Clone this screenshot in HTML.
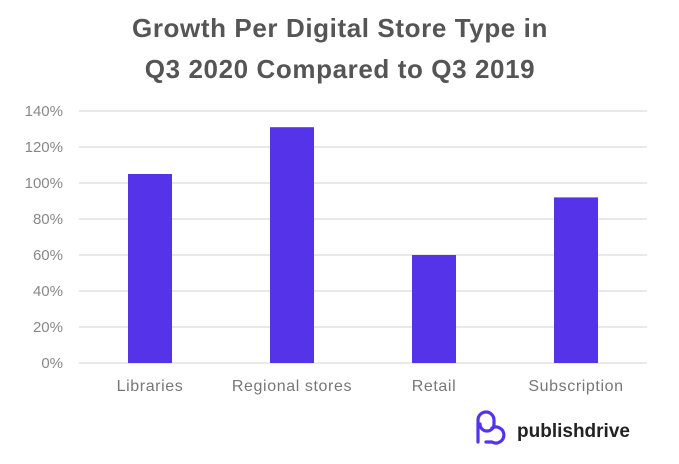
<!DOCTYPE html>
<html><head><meta charset="utf-8"><style>
body{margin:0;background:#fff;width:679px;height:459px;overflow:hidden;font-family:"Liberation Sans",sans-serif}
</style></head><body>
<svg width="679" height="459">
<text x="340" y="37" text-anchor="middle" font-size="26" font-weight="bold" fill="#555" letter-spacing="0.6">Growth Per Digital Store Type in</text>
<text x="340" y="78" text-anchor="middle" font-size="26" font-weight="bold" fill="#555" letter-spacing="0.6">Q3 2020 Compared to Q3 2019</text>
<g id="grid"></g><g id="bars"></g><g id="xl"></g>
<g>
<path d="M478 442 V420 a8 8 0 0 1 16 0 v4 a7 7 0 0 1 -14 0 M492 428 a8 8 0 1 1 0 14 h-6" fill="none" stroke="#5533ee" stroke-width="3.2" stroke-linecap="round" stroke-linejoin="round"/>
<text x="517" y="437" font-size="19" font-weight="bold" fill="#222">publishdrive</text>
</g>
</svg>
<script>
const categories=["Libraries","Regional stores","Retail","Subscription"];
const values=[105,131,60,92];
const ticks=[0,20,40,60,80,100,120,140];
const tickLabels=["0%","20%","40%","60%","80%","100%","120%","140%"];
const ns="http://www.w3.org/2000/svg";
const x0=79,x1=647,y0=363,y1=111,maxV=140,bw=44;
const band=(x1-x0)/categories.length;
const ys=v=>y0-(v/maxV)*(y0-y1);
const xc=i=>x0+band*(i+0.5);
function mk(t,a,p){const e=document.createElementNS(ns,t);for(const k in a)e.setAttribute(k,a[k]);p.appendChild(e);return e;}
const g=document.getElementById('grid');
ticks.forEach((t,i)=>{
 const l=mk('line',{x1:x0,x2:x1,y1:ys(t),y2:ys(t),stroke:'#dcdcdc','stroke-width':1.3},g);
 
 
 const tx=mk('text',{x:63,y:ys(t)+5,'text-anchor':'end','font-size':15,fill:'#888'},g);
 tx.textContent=tickLabels[i];
 
 
});
const b=document.getElementById('bars'),xl=document.getElementById('xl');
values.forEach((v,i)=>{
 const r=mk('rect',{x:xc(i)-bw/2,y:ys(v),width:bw,height:y0-ys(v),fill:'#5533e8'},b);
 
 
 const t=mk('text',{x:xc(i),y:391,'text-anchor':'middle','font-size':16,'letter-spacing':0.6,fill:'#777'},xl);
 t.textContent=categories[i];
 
 
});
</script>
</body></html>
